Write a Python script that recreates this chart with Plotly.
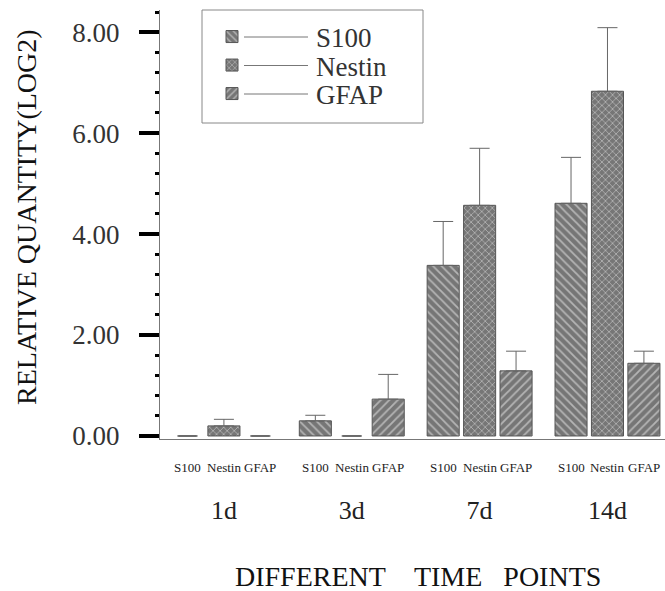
import plotly.graph_objects as go

# ---- data ----
days = ["1d", "3d", "7d", "14d"]
series = ["S100", "Nestin", "GFAP"]
s100 = [0.00, 0.30, 3.38, 4.61]
nestin = [0.20, 0.00, 4.57, 6.83]
gfap = [0.00, 0.73, 1.29, 1.44]
s100_err = [0.00, 0.11, 0.87, 0.91]
nestin_err = [0.13, 0.00, 1.13, 1.26]
gfap_err = [0.00, 0.49, 0.39, 0.24]
y_ticks = [0, 2, 4, 6, 8]

values = [s100, nestin, gfap]
errors = [s100_err, nestin_err, gfap_err]
shapes_pat = ["\\", "x", "/"]

FONT = "Liberation Serif"
BAR_BG = "#767676"
BAR_FG = "#f2f2f2"
EDGE = "#555555"

W, H = 665, 591
ML, MR, MT, MB = 160, 0, 10, 152
PW = W - ML - MR
PH = H - MT - MB

def px_x(x):
    return (x - ML) / PW

def px_y(y):
    return (H - MB - y) / PH

bargap = 0.145
bargroupgap = 0.12
slot = (1 - bargap) / 3
full_w = slot * (1 - bargroupgap)

fig = go.Figure()
legend_names = ["legend", "legend2", "legend3"]
for j, name in enumerate(series):
    fig.add_trace(go.Bar(
        x=days, y=values[j], name=name,
        width=[full_w if v > 0 else 0.14 for v in values[j]],
        marker=dict(
            color=BAR_BG,
            line=dict(color=EDGE, width=1),
            pattern=dict(shape=shapes_pat[j], bgcolor=BAR_BG, fgcolor=BAR_FG,
                         size=6 if j != 1 else 5, solidity=0.3),
        ),
        error_y=dict(type="data", array=errors[j], arrayminus=[0] * len(days),
                     symmetric=False, color="#666666", thickness=1, width=10),
        legend=legend_names[j],
    ))

annotations = []
for i, d in enumerate(days):
    for j, name in enumerate(series):
        annotations.append(dict(
            x=i + (j - 1) * slot, y=0, xref="x", yref="paper",
            text=name, showarrow=False, yshift=-28, yanchor="middle",
            font=dict(family=FONT, size=13, color="#222"),
        ))

annotations.append(dict(
    x=px_x(417.5), y=0, xref="paper", yref="paper", yshift=-137,
    text="DIFFERENT\u00a0\u00a0\u00a0\u00a0TIME\u00a0\u00a0\u00a0POINTS",
    showarrow=False, xanchor="center", yanchor="middle",
    font=dict(family=FONT, size=28, color="#111"),
))
annotations.append(dict(
    x=px_x(26), y=px_y(217), xref="paper", yref="paper",
    text="RELATIVE QUANTITY(LOG2)", textangle=-90, showarrow=False,
    xanchor="center", yanchor="middle",
    font=dict(family=FONT, size=28, color="#111"),
))

# legend box and connector lines
shapes = [dict(type="rect", xref="paper", yref="paper",
               x0=px_x(202), x1=px_x(423), y0=px_y(123), y1=px_y(10),
               line=dict(color="#888", width=1), fillcolor="rgba(0,0,0,0)")]
item_y = [37, 65.5, 94]
for yy in item_y:
    shapes.append(dict(type="line", xref="paper", yref="paper",
                       x0=px_x(244), x1=px_x(308), y0=px_y(yy), y1=px_y(yy),
                       line=dict(color="#777", width=1)))

legend_common = dict(
    xanchor="left", yanchor="middle", bgcolor="rgba(0,0,0,0)", borderwidth=0,
    font=dict(family=FONT, size=27, color="#333"), itemwidth=158,
)

fig.update_layout(
    width=W, height=H,
    margin=dict(l=ML, r=MR, t=MT, b=MB),
    paper_bgcolor="white", plot_bgcolor="white",
    barmode="group", bargap=bargap, bargroupgap=bargroupgap,
    showlegend=True,
    legend=dict(x=px_x(148), y=px_y(item_y[0]), **legend_common),
    legend2=dict(x=px_x(148), y=px_y(item_y[1]), **legend_common),
    legend3=dict(x=px_x(148), y=px_y(item_y[2]), **legend_common),
    annotations=annotations,
    shapes=shapes,
    xaxis=dict(
        type="category", range=[-0.5, 3.45], showgrid=False, zeroline=False,
        showline=True, linecolor="#777", linewidth=1, ticks="",
        tickfont=dict(family=FONT, size=26, color="#222"),
        ticklabelstandoff=48,
    ),
    yaxis=dict(
        range=[-0.06, 8.44], showgrid=False, zeroline=False,
        showline=True, linecolor="#777", linewidth=1,
        tickmode="array", tickvals=y_ticks, tickformat=".2f",
        ticks="outside", ticklen=20, tickwidth=3.5, tickcolor="black",
        tickfont=dict(family=FONT, size=27, color="#333"),
        ticklabelstandoff=14,
        minor=dict(dtick=0.4, tick0=0, ticks="outside", ticklen=4,
                   tickwidth=3, tickcolor="black", showgrid=False),
    ),
)

fig.write_html("out.html",
               config={"displayModeBar": False},
               post_script="document.body.style.margin='0px';document.body.style.padding='0px';")
